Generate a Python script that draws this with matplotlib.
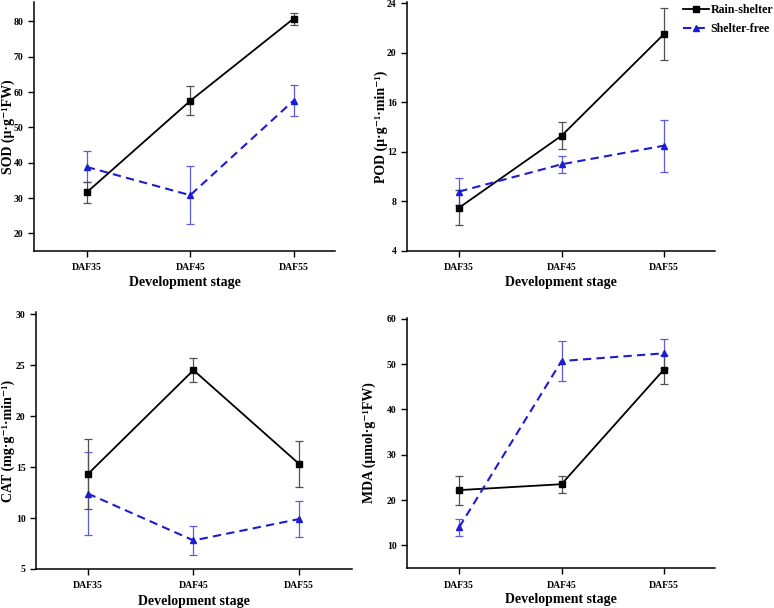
import matplotlib
matplotlib.use('Agg')
import matplotlib.pyplot as plt

plt.rcParams['font.family'] = ['Liberation Serif', 'DejaVu Serif']
plt.rcParams['font.weight'] = 'bold'

stages = ['DAF35', 'DAF45', 'DAF55']

# SOD
sod_rain = [31.6, 57.5, 80.8]
sod_rain_err = [2.9, 4.1, 1.7]
sod_free = [38.8, 30.8, 57.6]
sod_free_err = [4.4, 8.2, 4.3]
# POD
pod_rain = [7.5, 13.3, 21.5]
pod_rain_err = [1.4, 1.1, 2.1]
pod_free = [8.8, 11.0, 12.5]
pod_free_err = [1.1, 0.7, 2.1]
# CAT
cat_rain = [14.3, 24.5, 15.3]
cat_rain_err = [3.4, 1.2, 2.3]
cat_free = [12.4, 7.8, 9.9]
cat_free_err = [4.1, 1.4, 1.8]
# MDA
mda_rain = [22.2, 23.5, 48.8]
mda_rain_err = [3.2, 1.9, 3.2]
mda_free = [14.0, 50.7, 52.4]
mda_free_err = [1.9, 4.5, 3.2]

BLUE = '#1c1cd4'

fig = plt.figure(figsize=(7.74, 6.08), dpi=100)

panels = [
    # rect, rain, rain_err, free, free_err, ylim, yticks, ylabel, xlim, labelx
    ([34/774, 1-251/608, 301/774, 249/608], sod_rain, sod_rain_err, sod_free, sod_free_err,
     (15, 85.5), [20, 30, 40, 50, 60, 70, 80], 'SOD (μ·g⁻¹FW)', (-0.51, 2.4), -0.062),
    ([407/774, 1-251/608, 308/774, 249/608], pod_rain, pod_rain_err, pod_free, pod_free_err,
     (4, 24.1), [4, 8, 12, 16, 20, 24], 'POD (μ·g⁻¹·min⁻¹)', (-0.51, 2.5), -0.062),
    ([36/774, 1-569/608, 316/774, 257/608], cat_rain, cat_rain_err, cat_free, cat_free_err,
     (5, 30.2), [5, 10, 15, 20, 25, 30], 'CAT (mg·g⁻¹·min⁻¹)', (-0.49, 2.5), -0.066),
    ([407/774, 1-568/608, 308/774, 250/608], mda_rain, mda_rain_err, mda_free, mda_free_err,
     (5, 60.2), [10, 20, 30, 40, 50, 60], 'MDA (μmol·g⁻¹FW)', (-0.51, 2.5), -0.1),
]

x = list(range(len(stages)))
for rect, rain, rain_err, free, free_err, ylim, yticks, ylabel, xlim, labelx in panels:
    ax = fig.add_axes(rect)
    ax.errorbar(x, free, yerr=free_err, fmt='none', ecolor='#5c5ce0', elinewidth=0.9,
                capsize=3, capthick=0.9, zorder=2)
    ax.errorbar(x, rain, yerr=rain_err, fmt='none', ecolor='#505050', elinewidth=0.9,
                capsize=3, capthick=0.9, zorder=2)
    ax.plot(x, rain, color='black', lw=1.3, marker='s', ms=4.5, label='Rain-shelter', zorder=3)
    ax.plot(x, free, color=BLUE, lw=1.5, ls=(0, (4, 2.5)), marker='^', ms=5,
            label='Shelter-free', zorder=3)
    ax.set_xlim(*xlim)
    ax.set_ylim(*ylim)
    ax.set_yticks(yticks)
    ax.set_xticks(x)
    ax.set_xticklabels(stages)
    for s in ['top', 'right']:
        ax.spines[s].set_visible(False)
    for s in ['left', 'bottom']:
        ax.spines[s].set_linewidth(1.1)
    ax.tick_params(axis='both', labelsize=7, length=4, width=1, direction='out')
    ax.tick_params(axis='x', pad=5)
    ax.set_ylabel(ylabel, fontsize=10, fontweight='bold')
    ax.yaxis.set_label_coords(labelx, 0.5)
    ax.set_xlabel('Development stage', fontsize=10, fontweight='bold')
    ax.xaxis.set_label_coords(0.5, -0.1)
    if ylabel.startswith('POD'):
        h, l = ax.get_legend_handles_labels()

fig.legend(h, l, loc='upper right', bbox_to_anchor=(0.999, 0.993), frameon=False,
           prop={'weight': 'bold', 'size': 8.6}, handlelength=2.2, handletextpad=0.15,
           labelspacing=0.6, borderaxespad=0, borderpad=0)

fig.savefig('out.png', dpi=100)
